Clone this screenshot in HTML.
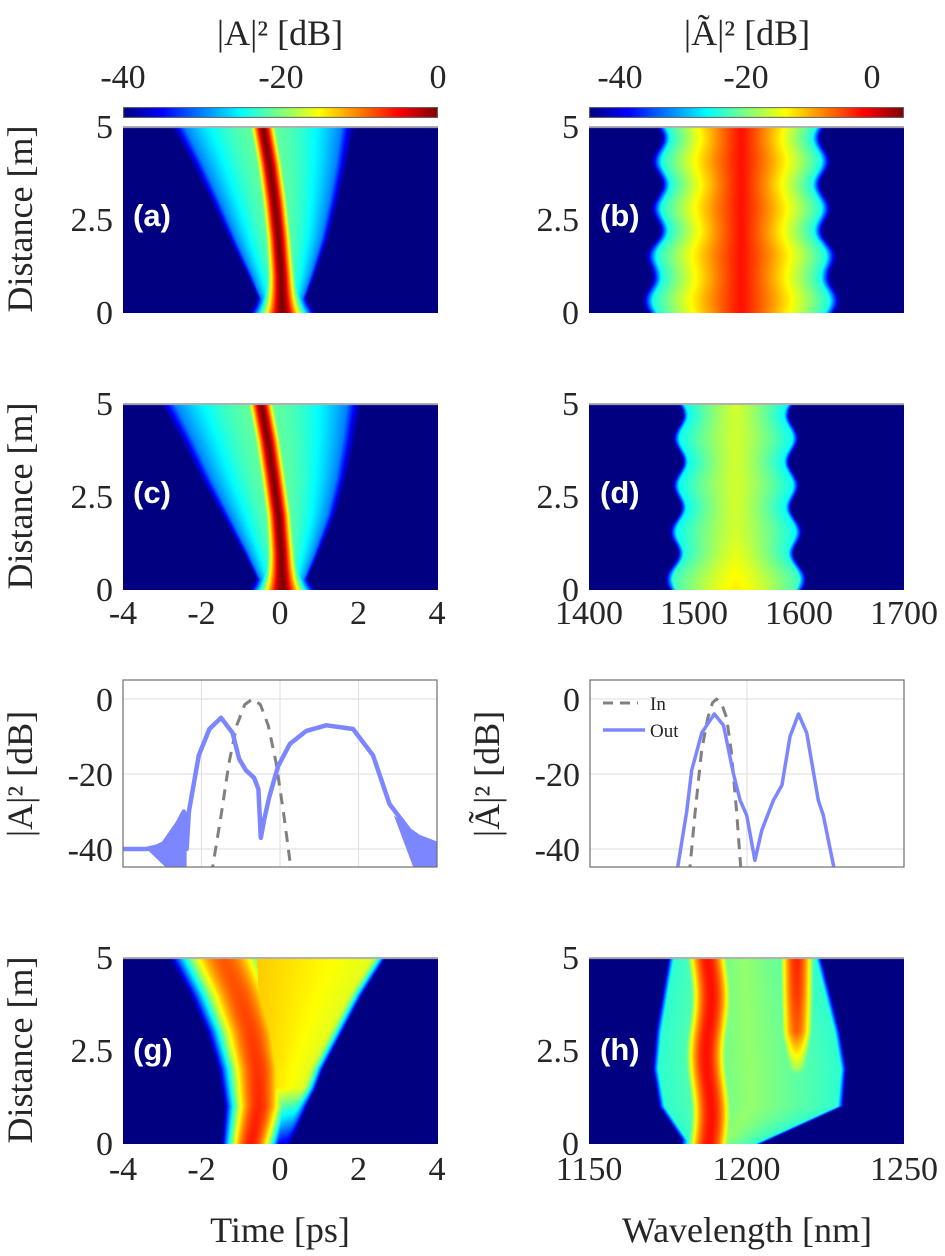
<!DOCTYPE html>
<html><head><meta charset="utf-8">
<style>
html,body{margin:0;padding:0;background:#fff;}
#root{position:relative;width:945px;height:1256px;overflow:hidden;background:#fff;}
canvas{position:absolute;}
svg{position:absolute;left:0;top:0;}
.tk{font-family:"Liberation Serif",serif;font-size:34px;fill:#262626;}
.ttl{font-family:"Liberation Serif",serif;font-size:36px;fill:#262626;}
.pl{font-family:"Liberation Sans",sans-serif;font-weight:bold;font-size:31px;}
</style></head>
<body>
<div id="root">
<canvas id="cbL" style="left:123px;top:107px" width="315" height="11"></canvas>
<canvas id="cbR" style="left:589px;top:107px" width="315" height="11"></canvas>
<canvas id="ha" style="left:123px;top:126px" width="315" height="187"></canvas>
<canvas id="hb" style="left:589px;top:126px" width="315" height="187"></canvas>
<canvas id="hc" style="left:123px;top:403px" width="315" height="187"></canvas>
<canvas id="hd" style="left:589px;top:403px" width="315" height="187"></canvas>
<canvas id="hg" style="left:123px;top:957px" width="315" height="187"></canvas>
<canvas id="hh" style="left:589px;top:957px" width="315" height="187"></canvas>
<svg id="ov" width="945" height="1256"></svg>
</div>
<script>
// ---- line plot data (e) ----
const eOutT  = [-4,-3.4,-3.0,-2.6,-2.45,-2.38,-2.32,-2.07,-1.8,-1.5,-1.21,-1.04,-0.87,-0.66,-0.55,-0.49,-0.4,-0.27,-0.05,0.25,0.67,1.18,1.86,2.37,2.79,3.3,3.98];
const eOutDb = [-40,-40,-39,-33,-30,-40,-30,-15,-8,-5,-9,-16,-19,-21,-24,-37,-32,-26,-18,-12,-8.5,-7,-8,-15,-28,-35,-40];
const eInT   = [-1.75,-1.5,-1.3,-1.1,-0.9,-0.7,-0.5,-0.3,-0.1,0.1,0.3];
const eInDb  = [-47,-31,-17,-7,-1.5,0,-1.5,-7,-17,-31,-47];
// ---- line plot data (f) ----
const fOutL  = [1177.5,1180.8,1182.4,1185.6,1189.6,1192.5,1195.7,1197.8,1199.9,1202.5,1204.7,1208.4,1211.1,1213.7,1216.4,1219,1222.7,1224.3,1228.2];
const fOutDb = [-47,-30,-19,-9,-4,-7,-20,-27,-31,-43,-35,-27,-23,-10,-4,-9,-27,-31,-47];
const fInL   = [1181.6,1183.5,1185.5,1187.5,1189,1190.3,1191.8,1193.5,1195,1196.7,1198.2];
const fInDb  = [-47,-30,-14,-5,-1,0,-1,-5,-14,-30,-47];
// ---- heatmap shape parameters sampled at z = 0..5 m ----
const zGrid = [0,1,2,3,4,5];
const aCenter = [0.05,0.02,-0.05,-0.15,-0.28,-0.45];
const aCone = [0.4,0.75,1.1,1.4,1.7,2.0];
const cCenter = [0.05,0.02,-0.05,-0.18,-0.32,-0.5];
const cCone = [0.45,0.85,1.25,1.6,1.9,2.2];
const bWidth = [80,80,74,72,72,72];
const dWidth = [58,54,52,50,50,50];
const gPulse = [-0.75,-0.55,-0.58,-0.75,-1.05,-1.45];
const gLobeR = [0.1,0.35,0.7,1.2,1.7,2.3];
const hBand2 = [-60,-45,-18,-6,-4,-3];
const hHaloL = [1182,1174,1172,1173,1175,1177];
const hHaloR = [1203,1229,1230,1228,1225,1222];

const NS='http://www.w3.org/2000/svg';
const ov=document.getElementById('ov');
function interp(arr,z){const i=Math.min(4,Math.floor(z));const f=z-i;return arr[i]*(1-f)+arr[i+1]*f;}
function jet(v){v=Math.max(0,Math.min(1,v));const c=x=>Math.round(255*Math.max(0,Math.min(1,x)));
 return [c(1.5-Math.abs(4*v-3)),c(1.5-Math.abs(4*v-2)),c(1.5-Math.abs(4*v-1))];}
function heat(id,x0,x1,vmin,vmax,fn){
 const cv=document.getElementById(id),ctx=cv.getContext('2d'),W=cv.width,H=cv.height;
 const img=ctx.createImageData(W,H);
 for(let j=0;j<H;j++){const z=5*(1-j/(H-1));
  for(let i=0;i<W;i++){const x=x0+(x1-x0)*i/(W-1);
   const v=fn(x,z);const c=jet((v-vmin)/(vmax-vmin));const k=4*(j*W+i);
   img.data[k]=c[0];img.data[k+1]=c[1];img.data[k+2]=c[2];img.data[k+3]=255;}}
 ctx.putImageData(img,0,0);
 ctx.fillStyle='#b0b0b0';ctx.fillRect(0,0,W,2);
}
function cbar(id){const cv=document.getElementById(id),ctx=cv.getContext('2d');
 for(let i=0;i<cv.width;i++){const c=jet(i/(cv.width-1));ctx.fillStyle=`rgb(${c})`;ctx.fillRect(i,0,1,cv.height);}
 ctx.strokeStyle='#666';ctx.strokeRect(0.5,0.5,cv.width-1,cv.height-1);}
cbar('cbL');cbar('cbR');
const sech2db=u=>{const c=Math.cosh(u);return 10*Math.log10(1/(c*c));};
function solitonField(t,z,cen,cone){
 const tc=interp(cen,z),E=interp(cone,z);
 const w=0.1+0.06*Math.exp(-z/0.4);
 const sol=sech2db((t-tc)/w);
 const r=Math.abs(t-tc)/E;
 const bg=r<1?-21-9*r*r:-30-60*(r-1);
 return Math.max(sol,bg);}
heat('ha',-4,4,-40,0,(t,z)=>solitonField(t,z,aCenter,aCone));
heat('hc',-4,4,-40,0,(t,z)=>solitonField(t,z,cCenter,cCone));
heat('hb',1400,1700,-45,5,(l,z)=>{const W=interp(bWidth,z)+4*Math.sin(2*Math.PI*z/1.25);const d=Math.abs(l-1545)/W;
 return d<1?-2-23*Math.pow(d,1.2):-25-160*(d-1);});
heat('hd',1400,1700,-45,5,(l,z)=>{const W=interp(dWidth,z)+4*Math.sin(2*Math.PI*z/1.25);const d=Math.abs(l-1540)/W;
 const bot=z<1.5?3*(1-z/1.5):0;
 return d<1?-16+bot-10*Math.pow(d,1.3):-26-160*(d-1);});
heat('hg',-4,4,-40,0,(t,z)=>{const c1=interp(gPulse,z),w=0.55+0.1*z;const d=(t-c1)/w;
 const p1=-6-0.5*z-18*d*d;
 const R=interp(gLobeR,z),L=-0.35-0.05*z;let lobe=-99;
 const fade=Math.min(1,z/1.5);
 if(t>L){lobe=(t<R?-13-3*(t-L)/(R-L+0.01):-16-45*(t-R)*(t-R)/0.3)-20*(1-fade);}
 return Math.max(p1,lobe);});
heat('hh',1150,1250,-45,5,(l,z)=>{const c=1188+0.8*Math.sin(z*2);const b1=-2-25*Math.pow((l-c)/7,2);
 const a2=interp(hBand2,z);const b2=a2-25*Math.pow((l-1216)/6,2);
 const HL=interp(hHaloL,z),HR=interp(hHaloR,z);let halo=-99;
 if(l>HL&&l<HR){halo=-19-5*Math.abs(l-(HL+HR)/2)/((HR-HL)/2);}else{const dd=l<HL?HL-l:l-HR;halo=-24-10*dd;}
 return Math.max(b1,b2,halo);});

function el(tag,attrs,text,name,inter){const e=document.createElementNS(NS,tag);for(const k in attrs)e.setAttribute(k,attrs[k]);
 if(text!==undefined)e.textContent=text;
 
 
 ov.appendChild(e);return e;}

el('text',{x:280,y:45,'text-anchor':'middle',class:'ttl'},'|A|² [dB]','colorbar-title-time');
el('text',{x:747,y:45,'text-anchor':'middle',class:'ttl'},'|Ã|² [dB]','colorbar-title-spectrum');
[[-40,123],[-20,281],[0,438]].forEach(([v,x])=>el('text',{x:x,y:88,'text-anchor':'middle',class:'tk'},String(v),'colorbar-tick-time'));
[[-40,620],[-20,746],[0,872]].forEach(([v,x])=>el('text',{x:x,y:88,'text-anchor':'middle',class:'tk'},String(v),'colorbar-tick-spectrum'));

const rowsY=[126,403,957];
rowsY.forEach(y0=>{
 [[5,0],[2.5,93],[0,186]].forEach(([v,dy])=>{
  el('text',{x:113,y:y0+dy+12,'text-anchor':'end',class:'tk'},String(v),'y-tick-label');
  el('text',{x:579,y:y0+dy+12,'text-anchor':'end',class:'tk'},String(v),'y-tick-label');
 });
 el('text',{x:0,y:0,'text-anchor':'middle',class:'ttl',transform:`translate(32,${y0+93}) rotate(-90)`},'Distance [m]','y-axis-title');
});
const tTicks=[-4,-2,0,2,4];
[624,1180].forEach(y=>tTicks.forEach(v=>el('text',{x:123+(v+4)/8*314,y:y,'text-anchor':'middle',class:'tk'},String(v),'x-tick-time')));
[1400,1500,1600,1700].forEach(v=>el('text',{x:589+(v-1400)/300*315,y:624,'text-anchor':'middle',class:'tk'},String(v),'x-tick-wavelength'));
[1150,1200,1250].forEach(v=>el('text',{x:589+(v-1150)/100*315,y:1180,'text-anchor':'middle',class:'tk'},String(v),'x-tick-wavelength'));
el('text',{x:280,y:1242,'text-anchor':'middle',class:'ttl'},'Time [ps]','x-axis-title-time');
el('text',{x:747,y:1242,'text-anchor':'middle',class:'ttl'},'Wavelength [nm]','x-axis-title-wavelength');

[['(a)',133,226,'#fff'],['(b)',600,226,'#fff'],['(c)',133,503,'#fff'],['(d)',600,503,'#fff'],
 ['(e)',133,785,'#000'],['(f)',600,780,'#000'],['(g)',133,1060,'#fff'],['(h)',600,1060,'#fff']]
 .forEach(([s,x,y,c])=>el('text',{x:x,y:y,class:'pl',fill:c},s,'panel-label-'+s[1]));

const pY0=680,pY1=867;
const yS=db=>699-db*3.75;
function axesBox(x0,x1,xgrid,name){
 el('rect',{x:x0,y:pY0,width:x1-x0,height:pY1-pY0,fill:'#fff',stroke:'none'},undefined,name+'-background');
 xgrid.forEach(x=>el('line',{x1:x,x2:x,y1:pY0,y2:pY1,stroke:'#e3e3e3','stroke-width':1.2},undefined,name+'-gridline-x'));
 [0,-20,-40].forEach(v=>el('line',{x1:x0,x2:x1,y1:yS(v),y2:yS(v),stroke:'#e3e3e3','stroke-width':1.2},undefined,name+'-gridline-y'));
 [0,-20,-40].forEach(v=>el('text',{x:x0-10,y:yS(v)+12,'text-anchor':'end',class:'tk'},String(v),name+'-y-tick'));
}
const eX=t=>123+(t+4)/8*314;
const fX=l=>590+(l-1150)/100*314;
axesBox(123,437,[eX(-2),eX(0),eX(2)],'plot-e');
axesBox(590,904,[fX(1200)],'plot-f');
el('text',{x:0,y:0,'text-anchor':'middle',class:'ttl',transform:'translate(32,774) rotate(-90)'},'|A|² [dB]','y-axis-title-e');
el('text',{x:0,y:0,'text-anchor':'middle',class:'ttl',transform:'translate(499,774) rotate(-90)'},'|Ã|² [dB]','y-axis-title-f');
const defs=document.createElementNS(NS,'defs');
defs.innerHTML='<clipPath id="ce"><rect x="123" y="680" width="314" height="187"/></clipPath><clipPath id="cf"><rect x="590" y="680" width="314" height="187"/></clipPath>';
ov.appendChild(defs);
function poly(xs,ys,xf,clip,attrs,name){const d=xs.map((v,i)=>(i?'L':'M')+xf(v).toFixed(1)+','+yS(ys[i]).toFixed(1)).join('');
 const a=Object.assign({d:d,fill:'none','clip-path':`url(#${clip})`,'stroke-linejoin':'round'},attrs);return el('path',a,undefined,name);}
poly(eInT,eInDb,eX,'ce',{stroke:'#808080','stroke-width':3,'stroke-dasharray':'11,8'},'plot-e-input-line');
el('path',{d:`M${eX(-3.4)},${yS(-40)} L${eX(-2.8)},${yS(-37)} L${eX(-2.55)},${yS(-31)} L${eX(-2.38)},${yS(-30)} L${eX(-2.38)},${yS(-45)} L${eX(-2.9)},${yS(-45)} Z`,fill:'#7b86ff','clip-path':'url(#ce)'},undefined,'plot-e-noise-left');
el('path',{d:`M${eX(2.9)},${yS(-31)} L${eX(3.5)},${yS(-36)} L${eX(4)},${yS(-38)} L${eX(4)},${yS(-45)} L${eX(3.4)},${yS(-45)} Z`,fill:'#7b86ff','clip-path':'url(#ce)'},undefined,'plot-e-noise-right');
poly(eOutT,eOutDb,eX,'ce',{stroke:'#7b86ff','stroke-width':4.5},'plot-e-output-line');
el('rect',{x:123,y:pY0,width:314,height:pY1-pY0,fill:'none',stroke:'#6e6e6e','stroke-width':1.2},undefined,'plot-e-frame');
poly(fInL,fInDb,fX,'cf',{stroke:'#808080','stroke-width':3,'stroke-dasharray':'11,8'},'plot-f-input-line');
poly(fOutL,fOutDb,fX,'cf',{stroke:'#7b86ff','stroke-width':3.5},'plot-f-output-line');
el('rect',{x:590,y:pY0,width:314,height:pY1-pY0,fill:'none',stroke:'#6e6e6e','stroke-width':1.2},undefined,'plot-f-frame');
el('line',{x1:603,x2:638,y1:703,y2:703,stroke:'#808080','stroke-width':3,'stroke-dasharray':'10,7'},undefined,'legend-in-swatch');
el('text',{x:650,y:710,style:'font-family:"Liberation Serif",serif;font-size:19px;fill:#262626'},'In','legend-in-label');
el('line',{x1:603,x2:645,y1:730,y2:730,stroke:'#7b86ff','stroke-width':3.5},undefined,'legend-out-swatch');
el('text',{x:650,y:737,style:'font-family:"Liberation Serif",serif;font-size:19px;fill:#262626'},'Out','legend-out-label');
</script>
</body></html>
